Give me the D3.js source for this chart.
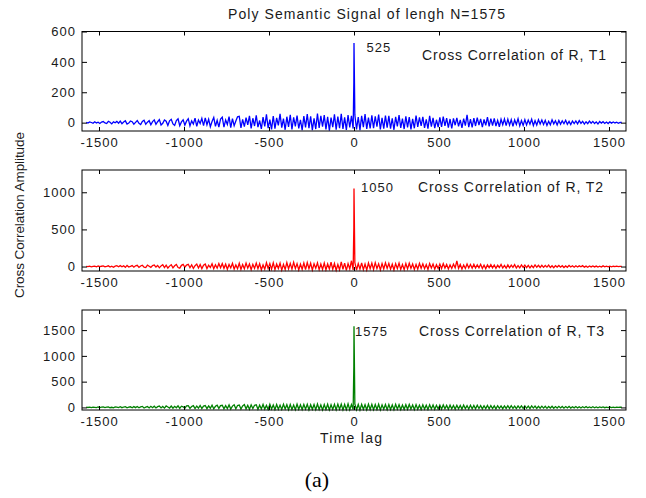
<!DOCTYPE html>
<html><head><meta charset="utf-8">
<script src="https://cdn.jsdelivr.net/npm/d3@7"></script>
<style>
body{margin:0;background:#fff;}
svg{display:block;font-family:"Liberation Sans",Arial,sans-serif;}
</style></head><body>
<svg id="c" width="646" height="498"></svg>
<script>
// ---- data ----
const titleText = "Poly Semantic Signal of lengh N=1575";
const xLabel = "Time lag";
const yLabel = "Cross Correlation Amplitude";
const captionText = "(a)";
const xTicks = [-1500, -1000, -500, 0, 500, 1000, 1500];
const yTicks1 = [0, 200, 400, 600];
const yTicks2 = [0, 500, 1000];
const yTicks3 = [0, 500, 1000, 1500];
const seriesNames = ["Cross Correlation of R, T1", "Cross Correlation of R, T2", "Cross Correlation of R, T3"];
const peakLabels = ["525", "1050", "1575"];
// lag grid for the sidelobe samples (main lobe given separately)
const noiseLags = d3.range(-1575, 0, 10).concat(d3.range(5, 1580, 10));
const peakLags = [-1, 0];
const peakT1 = [262, 525];
const peakT2 = [525, 1050];
const peakT3 = [787, 1575];
const noiseT1 = [
 2,-3,5,1,-4,6,-2,3,-5,4,
 7,-2,-6,9,3,-8,5,-1,8,-4,
 10,-7,4,12,-9,-3,11,6,-10,2,
 14,-5,-12,8,16,-10,3,13,-14,7,
 18,-11,6,20,-15,-4,17,9,-19,12,
 22,-8,-18,14,25,-20,5,19,-16,10,
 26,-21,12,-9,30,-24,17,-6,28,-19,
 31,-14,22,-27,8,34,-25,15,-30,24,
 36,-29,18,-12,40,-33,27,-20,11,38,
 42,-35,21,-26,33,-15,45,-38,29,-22,
 48,-30,14,-41,37,-25,55,-36,20,-44,
 44,-40,31,-18,58,-33,26,-47,39,-28,
 52,-45,35,-24,47,-38,19,-50,43,-31,
 56,-36,41,-49,28,-42,60,-34,45,-27,
 49,-44,38,-52,33,-29,54,-46,40,-37,
 58,-41,35,-48,50,-32,44,-39,
 51,-44,37,-49,45,-30,56,-41,33,-38,
 48,-36,42,-27,53,-45,31,-40,46,-33,
 44,-39,29,-47,38,-24,50,-35,27,-42,
 41,-31,36,-44,25,-37,47,-28,34,-22,
 38,-34,22,-40,45,-26,31,-36,19,-30,
 35,-28,40,-21,30,-33,24,-38,28,-17,
 32,-25,18,-35,27,-20,52,-29,23,-31,
 29,-22,33,-16,25,-30,21,-18,36,-24,
 26,-19,28,-23,15,-27,22,-14,24,-20,
 23,-17,20,-25,18,-12,26,-21,14,-18,
 20,-15,17,-10,22,-19,13,-16,19,-9,
 17,-12,15,-18,9,-14,19,-8,13,-15,
 14,-10,12,-7,16,-11,8,-13,11,-6,
 11,-8,13,-5,9,-10,6,-7,10,-4,
 8,-6,5,-9,7,-3,6,-5,4,-6,
 5,-3,4,-2,3,-4,2,1];
const noiseT2 = [
 3,-2,6,-4,1,5,-3,7,-1,4,
 8,-5,2,10,-7,4,-9,6,11,-3,
 12,-4,9,-11,15,-6,3,13,-8,10,
 16,-12,7,18,-9,-14,20,5,-11,14,
 21,-7,15,-17,9,24,-13,19,-20,6,
 25,-18,11,27,-14,-22,16,29,-9,20,
 30,-16,23,-25,12,33,-20,26,-28,18,
 35,-27,19,-13,38,-30,24,-22,41,-17,
 39,-24,32,-36,28,-19,44,-33,21,-29,
 43,-37,26,-31,47,-22,35,-41,30,-25,
 46,-29,38,-43,22,-36,51,-27,40,-34,
 50,-41,33,-26,45,-48,29,-38,54,-31,
 42,-35,57,-28,39,-45,31,-37,48,-40,
 53,-30,44,-47,36,-24,49,-42,34,-39,
 47,-43,35,-32,58,-37,41,-49,28,-44,
 62,-38,45,-51,39,-33,78,-46,
 54,-47,40,-36,50,-42,33,-45,48,-30,
 45,-39,52,-28,37,-44,41,-33,49,-26,
 43,-35,31,-46,39,-29,47,-38,27,-41,
 40,-32,44,-25,35,-39,29,-34,42,-23,
 37,-30,26,-38,41,-21,33,-35,24,-28,
 34,-27,39,-20,29,-33,23,-26,31,-18,
 75,-24,28,-32,21,-26,35,-19,27,-22,
 29,-21,24,-17,31,-25,19,-28,22,-15,
 26,-18,21,-24,17,-13,28,-20,15,-22,
 23,-16,19,-12,25,-19,14,-17,21,-11,
 20,-14,16,-19,12,-15,22,-10,17,-13,
 17,-11,14,-8,19,-13,10,-15,12,-7,
 14,-9,11,-13,8,-10,15,-6,10,-8,
 11,-7,9,-4,12,-8,6,-9,7,-5,
 8,-5,6,-7,4,-6,9,-3,5,-4,
 5,-3,4,-2,6,-1,3,2];
const noiseT3 = [
 4,-1,7,-3,5,2,-4,8,-2,6,
 9,-3,5,11,-6,3,-8,10,7,-2,
 13,-5,8,15,-9,4,12,-7,16,-4,
 18,-8,11,20,-12,6,17,-10,22,-5,
 23,-11,15,26,-9,19,-14,28,8,-12,
 27,-15,21,-7,31,-18,24,12,-16,30,
 33,-19,17,36,-22,28,-12,39,-20,25,
 37,-24,30,-16,42,-27,22,45,-19,34,
 41,-28,35,-21,48,-31,26,52,-25,38,
 46,-32,29,55,-27,40,-35,50,-23,43,
 51,-36,44,-29,58,-33,38,-40,62,-30,
 48,-42,56,-34,45,-38,60,-31,52,-44,
 55,-39,47,-45,63,-36,50,-41,58,-33,
 60,-46,52,-37,57,-43,66,-40,49,-48,
 54,-41,62,-47,51,-38,59,-44,65,-35,
 63,-48,57,-42,70,-45,55,-40,
 66,-44,58,-49,61,-37,53,-46,64,-41,
 59,-43,55,-38,62,-47,50,-35,57,-42,
 56,-40,49,-45,60,-33,52,-41,47,-37,
 53,-36,58,-31,46,-42,55,-34,44,-39,
 50,-33,43,-38,52,-29,47,-35,41,-30,
 46,-31,49,-26,40,-34,44,-28,37,-32,
 43,-28,38,-33,45,-24,36,-30,41,-25,
 39,-25,42,-21,35,-29,33,-23,38,-26,
 36,-22,31,-27,34,-19,30,-24,28,-20,
 32,-20,35,-17,27,-23,29,-15,31,-18,
 28,-17,24,-21,30,-13,25,-19,22,-14,
 25,-14,21,-18,19,-11,23,-15,17,-12,
 21,-11,18,-14,16,-9,20,-12,14,-8,
 17,-9,14,-11,12,-6,15,-8,10,-7,
 12,-6,10,-8,9,-4,11,-5,7,-3,
 8,-3,6,-2,5,1,4,3];

// ---- layout ----
const svg = d3.select("#c");
const left = 82, right = 626;
const panels = [
  {top: 31.5, bottom: 131, dom: [-55, 600], ticks: yTicks1, noise: noiseT1, peak: peakT1, color: "#0000ff",
   peakLbl: {x: 366.5, y: 51.5}, nameLbl: {x: 422, y: 60, w: 184}},
  {top: 170, bottom: 271, dom: [-60, 1300], ticks: yTicks2, noise: noiseT2, peak: peakT2, color: "#ff0000",
   peakLbl: {x: 361, y: 192}, nameLbl: {x: 418, y: 192, w: 185}},
  {top: 310, bottom: 410, dom: [-50, 1890], ticks: yTicks3, noise: noiseT3, peak: peakT3, color: "#008000",
   peakLbl: {x: 355, y: 336}, nameLbl: {x: 419, y: 336, w: 185}}
];
const x = d3.scaleLinear().domain([-1600, 1600]).range([left, right]);
const txtColor = "#1a1a1a";
const fmt = d => String(d);

panels.forEach((p, i) => {
  const y = d3.scaleLinear().domain(p.dom).range([p.bottom, p.top]);
  const g = svg.append("g");
  const pts = noiseLags.map((l, k) => [l, p.noise[k]])
    .concat(peakLags.map((l, j) => [l, p.peak[j]]))
    .sort((a, b) => a[0] - b[0]);
  g.append("path")
    .attr("d", d3.line().x(d => x(d[0])).y(d => y(d[1]))(pts))
    .attr("fill", "none").attr("stroke", p.color).attr("stroke-width", 1.3);

  const gb = g.append("g").attr("transform", `translate(0,${p.bottom})`)
    .call(d3.axisBottom(x).tickValues(xTicks).tickFormat(fmt).tickSizeInner(-4).tickSizeOuter(0).tickPadding(7));
  const gt = g.append("g").attr("transform", `translate(0,${p.top})`)
    .call(d3.axisTop(x).tickValues(xTicks).tickSizeInner(-4).tickSizeOuter(0).tickFormat(""));
  const gl = g.append("g").attr("transform", `translate(${left},0)`)
    .call(d3.axisLeft(y).tickValues(p.ticks).tickFormat(fmt).tickSizeInner(-5).tickSizeOuter(0).tickPadding(6));
  const gr = g.append("g").attr("transform", `translate(${right},0)`)
    .call(d3.axisRight(y).tickValues(p.ticks).tickSizeInner(-5).tickSizeOuter(0).tickFormat(""));
  [gb, gt, gl, gr].forEach(a => {
    a.select(".domain").remove();
    a.selectAll("line").attr("stroke", "#000");
    a.selectAll("text").attr("fill", txtColor).style("font-size", "13px")
      .style("font-family", '"Liberation Sans",Arial,sans-serif').style("letter-spacing", "1px");
  });
  g.append("rect").attr("x", left).attr("y", p.top).attr("width", right - left)
    .attr("height", p.bottom - p.top).attr("fill", "none").attr("stroke", "#000").attr("stroke-width", 1);

  g.append("text").attr("x", p.peakLbl.x).attr("y", p.peakLbl.y).text(peakLabels[i])
    .attr("fill", txtColor).style("font-size", "13px").style("letter-spacing", "1px");
  g.append("text").attr("x", p.nameLbl.x).attr("y", p.nameLbl.y).text(seriesNames[i])
    .attr("fill", txtColor).style("font-size", "14px")
    .attr("textLength", p.nameLbl.w).attr("lengthAdjust", "spacing");
});

svg.append("text").attr("x", 228).attr("y", 19).text(titleText)
  .attr("fill", txtColor).style("font-size", "14px").attr("textLength", 277).attr("lengthAdjust", "spacing");
svg.append("text").attr("x", 320).attr("y", 443).text(xLabel)
  .attr("fill", txtColor).style("font-size", "14px").attr("textLength", 62).attr("lengthAdjust", "spacing");
svg.append("text").attr("transform", "translate(24,298) rotate(-90)").text(yLabel)
  .attr("fill", txtColor).style("font-size", "13.5px").attr("textLength", 166).attr("lengthAdjust", "spacing");
svg.append("text").attr("x", 317).attr("y", 487).attr("text-anchor", "middle").text(captionText)
  .attr("fill", "#000").style("font-size", "22px").style("font-family", '"Liberation Serif","Times New Roman",serif');
</script>
</body></html>
